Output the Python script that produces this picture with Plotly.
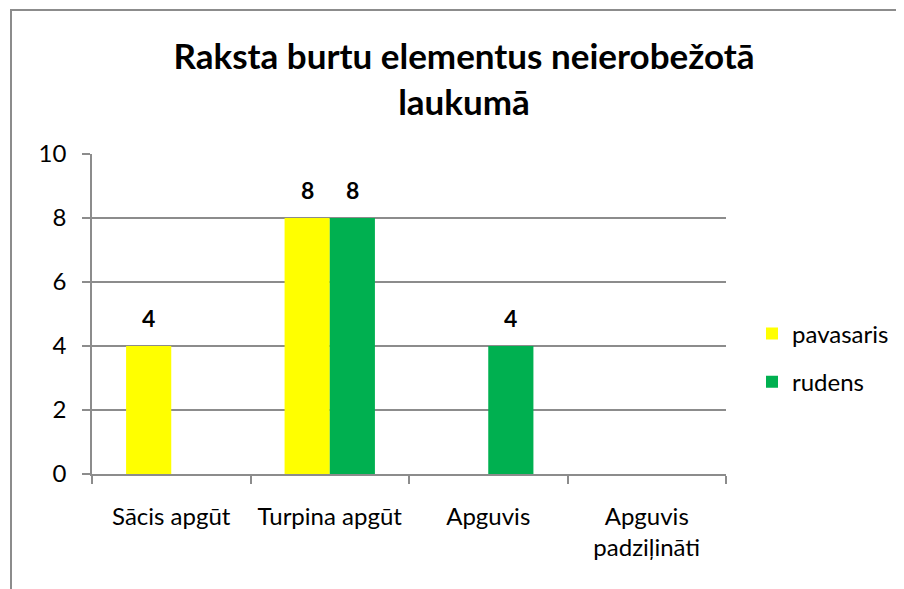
import plotly.graph_objects as go

categories = ["Sācis apgūt", "Turpina apgūt", "Apguvis", "Apguvis<br>padziļināti"]
pavasaris = [4, 8, 0, 0]
rudens = [0, 8, 4, 0]
series_names = ["pavasaris", "rudens"]
colors = ["#FFFF00", "#00B050"]
title_text = "<b>Raksta burtu elementus neierobežotā<br>laukumā</b>"
y_ticks = [0, 2, 4, 6, 8, 10]

FONT = "Lato, Open Sans, sans-serif"
OFF = 8  # page body margin
W, H = 904 - OFF, 589 - OFF
L, T = 92 - OFF, 154 - OFF
R = W - (726 - OFF)
B = H - (474 - OFF)
pw, ph = W - L - R, H - T - B
BAR_PX = 45  # bar width in pixels (for label offsets)

fig = go.Figure()
all_series = [pavasaris, rudens]
for i, (name, vals) in enumerate(zip(series_names, all_series)):
    fig.add_trace(go.Bar(
        x=categories, y=vals, name=name,
        marker=dict(color=colors[i], line=dict(width=0)),
        cliponaxis=False,
        legendgroup=name,
    ))

annotations = []
for i, vals in enumerate(all_series):
    shift = (i - 0.5) * BAR_PX
    for cat, v in zip(categories, vals):
        if v:
            annotations.append(dict(
                x=cat, y=v, xref="x", yref="y", text=f"<b>{v}</b>",
                showarrow=False, xshift=shift, yshift=28, yanchor="middle",
                font=dict(family=FONT, size=23, color="black")))

def px_x(p):
    return (p - OFF - L) / pw

def px_y(p):
    return (H - B - (p - OFF)) / ph

fig.update_layout(
    width=W, height=H,
    margin=dict(l=L, r=R, t=T, b=B, autoexpand=False),
    template="none",
    paper_bgcolor="white", plot_bgcolor="white",
    barmode="group", bargap=0.43, bargroupgap=0,
    font=dict(family=FONT, size=24, color="black"),
    title=dict(text=title_text, x=(464 - OFF) / W, xanchor="center",
               y=1 - 61 / H, yanchor="top",
               font=dict(family=FONT, size=35, color="black")),
    showlegend=True,
    legend=dict(x=px_x(752), xanchor="left", y=px_y(358), yanchor="middle",
                font=dict(family=FONT, size=24), tracegroupgap=14,
                bgcolor="rgba(0,0,0,0)"),
    xaxis=dict(showgrid=False, showline=True, linecolor="#8c8c8c", linewidth=1.5,
               ticks="outside", tickson="boundaries", ticklen=8,
               tickcolor="#8c8c8c", tickwidth=1.5, ticklabelstandoff=20,
               tickfont=dict(family=FONT, size=24)),
    yaxis=dict(range=[0, 10], tickvals=y_ticks, showgrid=True,
               gridcolor="#8c8c8c", gridwidth=1.5,
               showline=True, linecolor="#8c8c8c", linewidth=1.5,
               ticks="outside", ticklen=8, tickcolor="#8c8c8c", tickwidth=1.5,
               ticklabelstandoff=11,
               tickfont=dict(family=FONT, size=24), zeroline=False),
    annotations=annotations,
    shapes=[dict(type="rect", xref="paper", yref="paper",
                 x0=px_x(11), x1=px_x(904 + 20), y0=px_y(589 + 20), y1=px_y(10),
                 line=dict(color="#8c8c8c", width=2), fillcolor="rgba(0,0,0,0)",
                 layer="below")],
)

fig.write_html("out.html")
